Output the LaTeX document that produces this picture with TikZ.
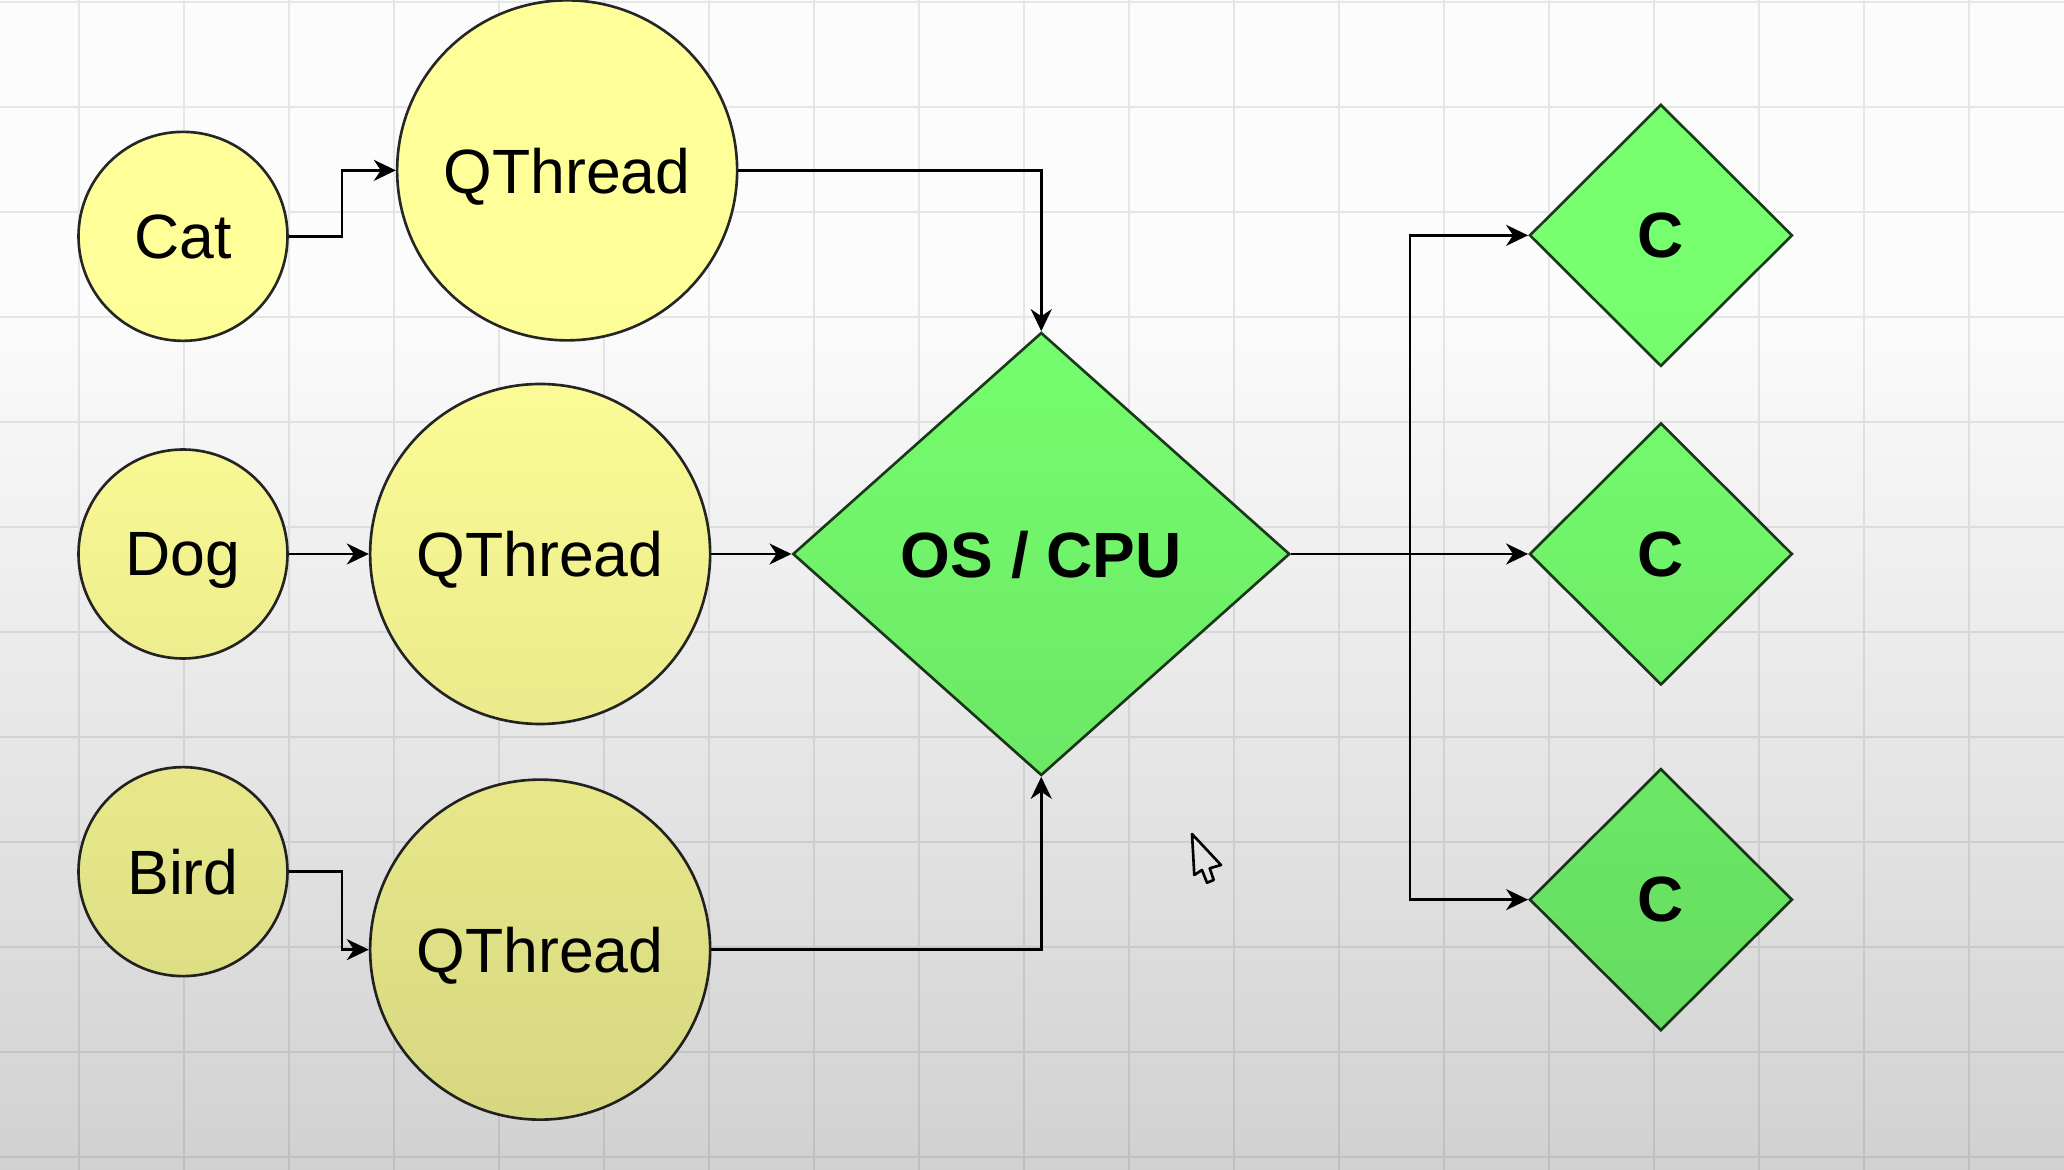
\documentclass[tikz,border=0pt]{standalone}
\usepackage{fontspec}
\setmainfont{Liberation Sans}
\usetikzlibrary{positioning,shapes.geometric,arrows.meta,fadings}

\definecolor{threadyellow}{HTML}{FFFF99}
\definecolor{cpugreen}{HTML}{77FF70}
\definecolor{cpuborder}{HTML}{1B3A1B}
\definecolor{gridgray}{HTML}{E6E6E6}

\tikzfading[name=screenfade, top color=transparent!100,
  middle color=transparent!65, bottom color=transparent!0]

\begin{document}
\begin{tikzpicture}[nodes = {align = center, text depth=0pt,
      font=\fontsize{17.8}{21}\selectfont},
    animal/.style = {circle, draw=black!85, line width=0.75pt,
      fill=threadyellow, minimum size=2.09cm, inner sep=0pt},
    thread/.style = {animal, minimum size=3.4cm},
    cpu/.style = {diamond, draw=cpuborder, line width=0.75pt, fill=cpugreen,
      inner sep=0pt, font=\fontsize{18.2}{21}\selectfont\bfseries},
    core/.style = {cpu, minimum width=2.63cm, minimum height=2.62cm},
    link/.style = {->, >={Stealth[length=2.2mm, width=2.1mm, inset=0.7mm]},
      line width=0.75pt}]
    \useasboundingbox (0,0) rectangle (20.64,-11.70);
    \fill[white!99!black] (0,0) rectangle (20.64,-11.70);
    \draw[gridgray, line width=0.6pt, shift={(0.79,-0.02)}, step=1.05cm]
    (-0.79,-11.68) grid (19.85,0.02);

    \node (dog) [animal] at (1.83,-5.54) {Dog};
    \node (cat) [animal, above = 1.06cm of dog] {Cat};
    \node (bird) [animal, below = 1.06cm of dog] {Bird};

    \node (t2) [thread, right = 0.8cm of dog] {QThread};
    \node (t1) [thread, above = 0.41cm of t2, xshift=2.7mm] {QThread};
    \node (t3) [thread, below = 0.53cm of t2] {QThread};

    \node (os) [cpu, right = 0.8cm of t2, minimum width=4.97cm,
    minimum height=4.43cm] {OS / CPU};

    \node (c2) [core, right = 2.37cm of os] {C};
    \node (c1) [core, above = 0.54cm of c2] {C};
    \node (c3) [core, below = 0.81cm of c2] {C};

    \coordinate [right = 1.19cm of os] (split);

    \draw[link] (cat.east) -- ++(0.53,0) |- (t1.west);
    \draw[link] (dog) -- (t2);
    \draw[link] (bird.east) -- ++(0.53,0) |- (t3.west);

    \draw[link] (t1.east) -| (os.north);
    \draw[link] (t2) -- (os);
    \draw[link] (t3.east) -| (os.south);

    \draw[link] (os) -- (c2);
    \draw[link] (split) |- (c1.west);
    \draw[link] (split) |- (c3.west);

    % mouse pointer
    \draw[line width=0.75pt, fill=white, line join=round] (11.92,-8.34)
    -- ++(0.023,-0.41) -- ++(0.077,0.05) -- ++(0.05,-0.127) -- ++(0.067,0.027)
    -- ++(-0.04,0.117) -- ++(0.113,0.033) -- cycle;

    \fill[black, path fading=screenfade, opacity=0.17]
    (0,-3) rectangle (20.64,-11.70);
  \end{tikzpicture}
\end{document}
